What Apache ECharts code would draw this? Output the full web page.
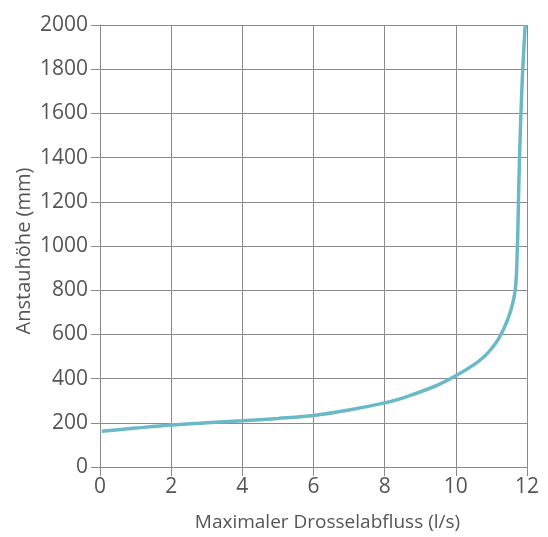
<!DOCTYPE html>
<html><head><meta charset="utf-8">
<script src="https://cdn.jsdelivr.net/npm/echarts@6/dist/echarts.min.js"></script>
<style>html,body{margin:0;padding:0;background:#fff}#c{width:548px;height:537px}</style>
</head><body><div id="c"></div>
<script>
const xValues = [0.05, 1, 2, 3, 4, 5, 6, 7, 8, 8.5, 9, 9.5, 10, 10.5, 10.8, 11, 11.2, 11.4, 11.55, 11.65, 11.7, 11.72, 11.74, 11.76, 11.79, 11.83, 11.88, 11.95];
const yValues = [162, 176, 190, 200, 209, 220, 233, 258, 290, 312, 340, 372, 413, 462, 500, 535, 580, 645, 712, 780, 860, 950, 1050, 1200, 1400, 1600, 1800, 2000];
const xAxisName = 'Maximaler Drosselabfluss (l/s)';
const yAxisName = 'Anstauhöhe (mm)';

const grey = '#555';
const gridCol = '#8a8a8a';
const font = 'Open Sans';
const chart = echarts.init(document.getElementById('c'), null, {renderer: 'canvas'});
chart.setOption({
  animation: false,
  grid: {left: 100, right: 21, top: 25, bottom: 70},
  xAxis: {
    type: 'value', min: 0, max: 12, interval: 2,
    name: xAxisName, nameLocation: 'middle', nameGap: 46,
    nameMoveOverlap: false,
    nameTextStyle: {color: grey, fontSize: 19, fontFamily: font, padding: [0, 0, 0, 28]},
    axisLine: {show: true, lineStyle: {color: gridCol, width: 1}},
    axisTick: {show: true, length: 9, lineStyle: {color: gridCol}},
    axisLabel: {color: grey, fontSize: 21, fontFamily: font, margin: 10, formatter: v => String(v)},
    splitLine: {show: true, lineStyle: {color: gridCol, width: 1}}
  },
  yAxis: {
    type: 'value', min: 0, max: 2000, interval: 200,
    name: yAxisName, nameLocation: 'middle', nameGap: 66,
    nameMoveOverlap: false,
    nameTextStyle: {color: grey, fontSize: 20, fontFamily: font, padding: [0, 10, 0, 0]},
    axisLine: {show: true, lineStyle: {color: gridCol, width: 1}},
    axisTick: {show: true, length: 9, lineStyle: {color: gridCol}},
    axisLabel: {color: grey, fontSize: 21, fontFamily: font, margin: 12, formatter: v => String(v)},
    splitLine: {show: true, lineStyle: {color: gridCol, width: 1}}
  },
  series: [{
    type: 'line',
    data: xValues.map((x, i) => [x, yValues[i]]),
    smooth: 0.3,
    showSymbol: false,
    lineStyle: {color: '#6bb9c7', width: 3.5}
  }]
});
</script></body></html>
